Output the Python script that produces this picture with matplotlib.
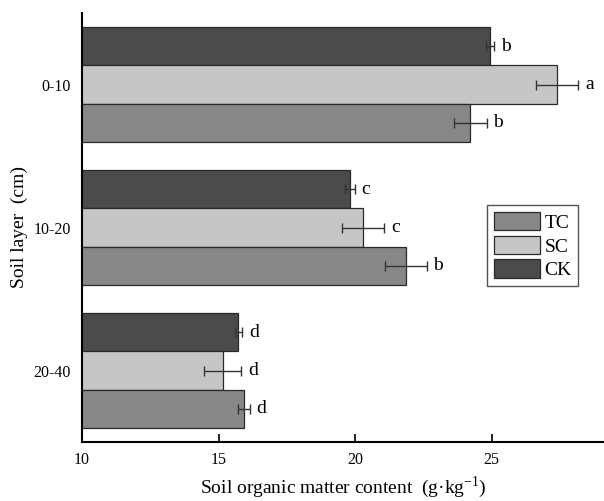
import numpy as np
import matplotlib
matplotlib.use('Agg')
import matplotlib.pyplot as plt

plt.rcParams['font.family'] = ['Liberation Serif', 'DejaVu Serif']
plt.rcParams['mathtext.fontset'] = 'custom'
plt.rcParams['mathtext.rm'] = 'Liberation Serif'

# data
layers = ['0-10', '10-20', '20-40']
treatments = ['CK', 'SC', 'TC']
ck = [24.95, 19.82, 15.73]
sc = [27.41, 20.30, 15.15]
tc = [24.22, 21.86, 15.92]
ck_err = [0.15, 0.17, 0.14]
sc_err = [0.77, 0.76, 0.67]
tc_err = [0.60, 0.76, 0.22]
ck_sig = ['b', 'c', 'd']
sc_sig = ['a', 'c', 'd']
tc_sig = ['b', 'b', 'd']

colors = {'CK': '#4b4b4b', 'SC': '#c6c6c6', 'TC': '#878787'}

fig = plt.figure(figsize=(6.04, 5.01), dpi=100)
ax = fig.add_axes([82 / 604, 59 / 501, 522 / 604, 429 / 501])

y = np.arange(len(layers))
h = 0.267
offsets = {'CK': -h, 'SC': 0, 'TC': h}
series = {'CK': (ck, ck_err, ck_sig), 'SC': (sc, sc_err, sc_sig), 'TC': (tc, tc_err, tc_sig)}

handles = {}
for name in treatments:
    vals, errs, sig = series[name]
    pos = y + offsets[name]
    bars = ax.barh(pos, vals, height=h, left=0, color=colors[name],
                   edgecolor='#2a2a2a', linewidth=0.9, label=name)
    handles[name] = bars
    ax.errorbar(vals, pos, xerr=errs, fmt='none', ecolor='#333333',
                elinewidth=1.0, capsize=3.5, capthick=1.0)
    for v, e, p, s in zip(vals, errs, pos, sig):
        ax.annotate(s, (v + e, p), xytext=(5, 0), textcoords='offset points',
                    ha='left', va='center', fontsize=14)

ax.set_xlim(10, 29.12)
ax.set_ylim(2.5, -0.5)
ax.set_xticks([10, 15, 20, 25])
ax.set_yticks(y)
ax.set_yticklabels(layers)
ax.tick_params(axis='x', direction='in', length=6, width=1.2, labelsize=11.5, pad=7)
ax.tick_params(axis='y', length=0, labelsize=11.5, pad=8)
for side in ['top', 'right']:
    ax.spines[side].set_visible(False)
for side in ['left', 'bottom']:
    ax.spines[side].set_linewidth(1.5)

ax.set_xlabel('Soil organic matter content  (g\u00b7kg$^{\\mathregular{-1}}$)',
              fontsize=14, labelpad=5)
ax.set_ylabel('Soil layer  (cm)', fontsize=14, labelpad=4)

leg = ax.legend([handles['TC'], handles['SC'], handles['CK']], ['TC', 'SC', 'CK'],
                loc='upper left', bbox_to_anchor=(487 / 604, 1 - 205 / 501),
                bbox_transform=fig.transFigure, borderaxespad=0, fontsize=14,
                fancybox=False, framealpha=1, edgecolor='#555555',
                handlelength=2.4, handleheight=1.1, handletextpad=0.2,
                labelspacing=0.2, borderpad=0.35)
leg.get_frame().set_linewidth(1.0)

fig.savefig('out.png', dpi=100)
